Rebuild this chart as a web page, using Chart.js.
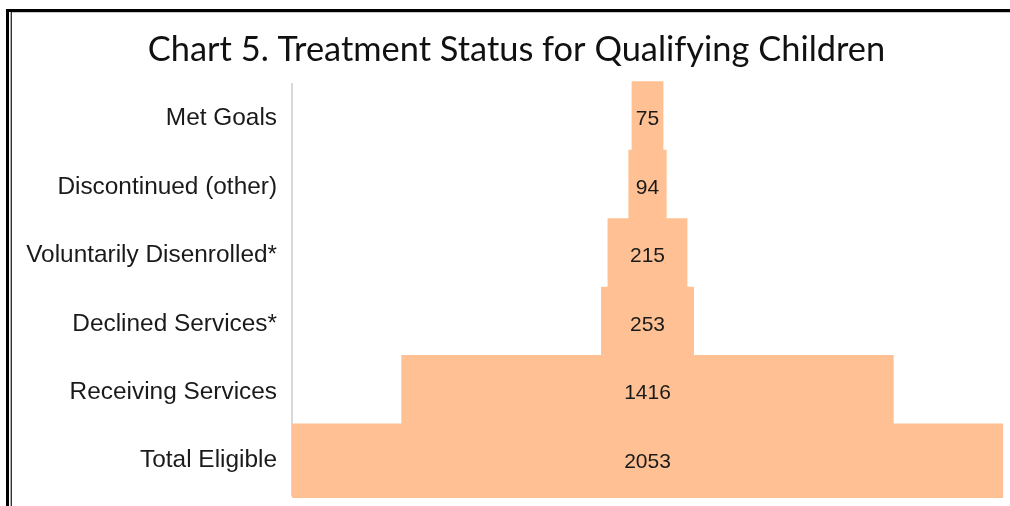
<!DOCTYPE html>
<html>
<head>
<meta charset="utf-8">
<script src="https://cdn.jsdelivr.net/npm/chart.js@4"></script>
<style>
    html, body { margin: 0; padding: 0; background: #fff; }
    #wrap { position: relative; width: 1010px; height: 506px; overflow: hidden; }
    .edge { position: absolute; }
    #outer { left: 6px; top: 9px; width: 1010px; height: 510px; border-left: 3px solid #000; border-top: 3px solid #000; }
    #inner1 { left: 10px; top: 12px; width: 1010px; height: 510px; border-left: 1px solid #b0b0b0; border-top: 1px solid #c8c8c8; }
    #inner2 { left: 11px; top: 12px; width: 1px; height: 510px; background: #333; }
    #funnel { position: absolute; left: 0; top: 0; }
</style>
</head>
<body>
<div id="wrap">
    <div class="edge" id="outer"></div>
    <div class="edge" id="inner1"></div>
    <div class="edge" id="inner2"></div>
    <canvas id="funnel" width="1010" height="506"></canvas>
</div>
<script>
// Funnel data (top to bottom)
const stages = ['Met Goals', 'Discontinued (other)', 'Voluntarily Disenrolled*', 'Declined Services*', 'Receiving Services', 'Total Eligible'];
const counts = [75, 94, 215, 253, 1416, 2053];

// centre each bar on zero so it reads as a funnel
const spans = counts.map(v => [-v / 2, v / 2]);

// value labels in the middle of each bar
const barLabels = {
    id: 'barLabels',
    afterDatasetsDraw(chart) {
        const ctx = chart.ctx;
        const meta = chart.getDatasetMeta(0);
        ctx.save();
        ctx.font = '21px "Liberation Sans", Arial, sans-serif';
        ctx.fillStyle = '#1a1a1a';
        ctx.textAlign = 'center';
        ctx.textBaseline = 'middle';
        meta.data.forEach((bar, i) => {
            const cx = (bar.x + bar.base) / 2;
            ctx.fillText(String(counts[i]), cx, bar.y + 1);
        });
        ctx.restore();
    }
};

// title sits a little right of the canvas centre in the original
const shiftTitle = {
    id: 'shiftTitle',
    afterLayout(chart) {
        if (chart.titleBlock) chart.titleBlock.left = 30;
    }
};

const funnelCtx = document.getElementById('funnel').getContext('2d');
new Chart(funnelCtx, {
    type: 'bar',
    data: {
        labels: stages,
        datasets: [{
            data: spans,
            backgroundColor: '#ffc193',
            borderWidth: 0,
            inflateAmount: 3,
            categoryPercentage: 1,
            barPercentage: 1,
            clip: false
        }]
    },
    options: {
        indexAxis: 'y',
        responsive: false,
        animation: false,
        layout: { padding: { left: 0, right: 7, top: 0, bottom: 11 } },
        plugins: {
            legend: { display: false },
            tooltip: { enabled: false },
            title: {
                display: true,
                text: 'Chart 5. Treatment Status for Qualifying Children',
                color: '#111',
                font: { family: 'Lato, "Open Sans", sans-serif', size: 34.4, weight: 'normal' },
                padding: { top: 29, bottom: 14 }
            }
        },
        scales: {
            x: {
                display: false,
                min: -1035,
                max: 1035
            },
            y: {
                afterFit: s => {
                    s.width = 292;
                    s.paddingTop = 0;
                    s.paddingBottom = 0;
                },
                grid: { display: false, drawTicks: false },
                border: { display: true, color: '#d9d9d9', width: 2 },
                ticks: {
                    padding: 15,
                    color: '#1a1a1a',
                    font: { family: '"Liberation Sans", Arial, sans-serif', size: 24.4 }
                }
            }
        }
    },
    plugins: [barLabels, shiftTitle]
});
</script>
</body>
</html>
